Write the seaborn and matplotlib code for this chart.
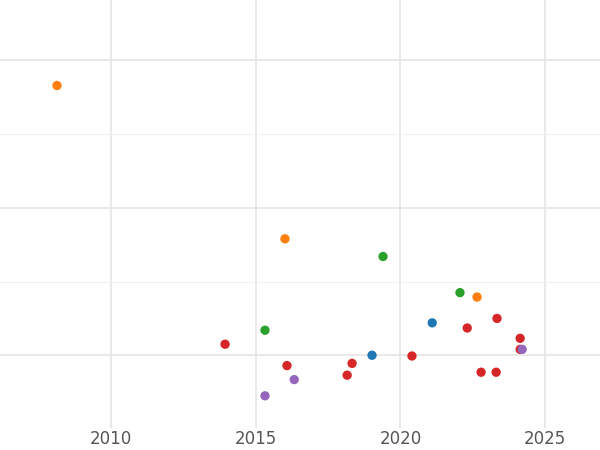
import matplotlib
matplotlib.use("Agg")
import matplotlib.pyplot as plt
import seaborn as sns
import pandas as pd
from matplotlib.ticker import MultipleLocator

sns.set_theme(style="white")

# values
groups = ["blue", "orange", "green", "red", "purple"]
year_blue = [2021.10, 2019.02]
val_blue = [0.44, 0.0]
year_orange = [2008.13, 2016.01, 2022.65]
val_orange = [3.66, 1.58, 0.79]
year_green = [2019.40, 2022.06, 2015.32]
val_green = [1.34, 0.85, 0.34]
year_red = [2013.94, 2016.08, 2018.33, 2018.16, 2020.40, 2022.31, 2023.34,
            2024.14, 2024.14, 2022.79, 2023.31]
val_red = [0.15, -0.14, -0.11, -0.27, -0.01, 0.37, 0.50, 0.23, 0.08, -0.23, -0.23]
year_purple = [2015.32, 2016.33, 2024.21]
val_purple = [-0.55, -0.33, 0.08]

years = [year_blue, year_orange, year_green, year_red, year_purple]
vals = [val_blue, val_orange, val_green, val_red, val_purple]
rows = []
for g, ys, vs in zip(groups, years, vals):
    for y, v in zip(ys, vs):
        rows.append({"year": y, "value": v, "group": g})
df = pd.DataFrame(rows)

palette = {"blue": "#1f77b4", "orange": "#ff7f0e", "green": "#2ca02c",
           "red": "#d62728", "purple": "#9467bd"}

fig = plt.figure(figsize=(6, 4.5), dpi=100)
ax = fig.add_axes([0, 0.05, 1, 0.95])
sns.scatterplot(data=df, x="year", y="value", hue="group", palette=palette,
                s=45, edgecolor="none", legend=False, ax=ax, zorder=3)

ax.set_xlim(2006.16, 2026.9)
ax.set_ylim(-0.98, 4.82)
ax.xaxis.set_major_locator(MultipleLocator(5))
ax.yaxis.set_major_locator(MultipleLocator(2))
ax.yaxis.set_minor_locator(MultipleLocator(1))
ax.grid(which="major", color="#e5e5e5", linewidth=1.2)
ax.grid(which="minor", axis="y", color="#f0f0f0", linewidth=0.8)
ax.set_yticklabels([])
ax.tick_params(axis="y", length=0, which="both")
ax.tick_params(axis="x", length=0, which="both", pad=2, labelsize=12, labelcolor="#555555")
ax.set_xlabel("")
ax.set_ylabel("")
for s in ax.spines.values():
    s.set_visible(False)

fig.savefig("out.png", dpi=100)
